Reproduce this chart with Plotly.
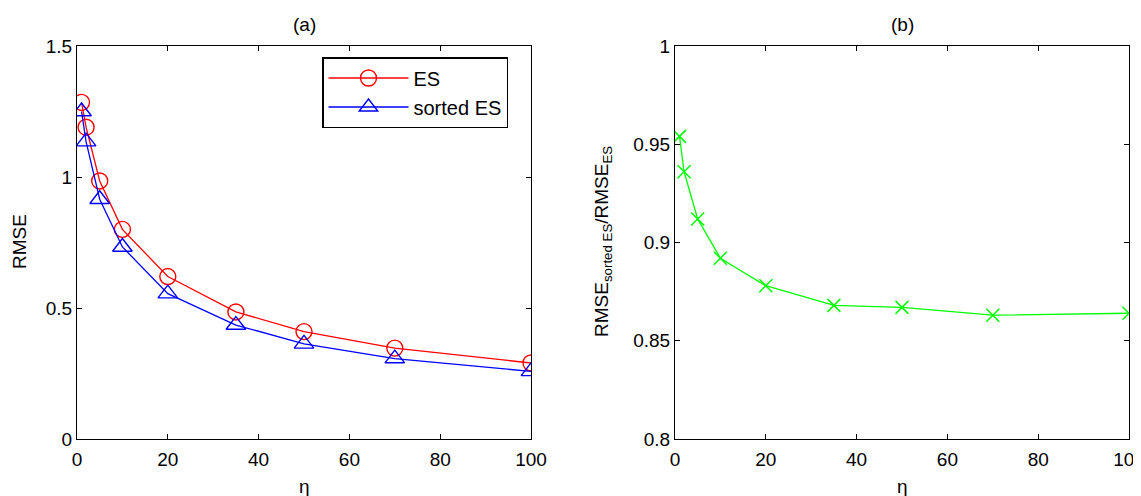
import plotly.graph_objects as go

eta = [1, 2, 5, 10, 20, 35, 50, 70, 100]
rmse_es = [1.285, 1.19, 0.985, 0.80, 0.62, 0.485, 0.41, 0.347, 0.29]
rmse_sorted = [1.25, 1.135, 0.915, 0.733, 0.555, 0.435, 0.363, 0.307, 0.258]
ratio = [0.954, 0.936, 0.912, 0.892, 0.878, 0.868, 0.867, 0.863, 0.864]

x_ticks = [0, 20, 40, 60, 80, 100]
y1_ticks = [0, 0.5, 1, 1.5]
y1_labels = ["0", "0.5", "1", "1.5"]
y2_ticks = [0.8, 0.85, 0.9, 0.95, 1]
y2_labels = ["0.8", "0.85", "0.9", "0.95", "1"]

FONT = "Liberation Sans, Arial, sans-serif"
OFF = 8  # page body margin
W, H = 1141 - OFF, 496 - OFF
FS = 19

fig = go.Figure()
fig.add_trace(go.Scatter(
    x=eta, y=rmse_es, name="ES", mode="lines+markers",
    line=dict(color="#ff0000", width=1.3),
    marker=dict(symbol="circle-open", size=16, color="#ff0000", line=dict(width=1.4)),
    xaxis="x", yaxis="y"))
fig.add_trace(go.Scatter(
    x=eta, y=rmse_sorted, name="sorted ES", mode="lines+markers",
    line=dict(color="#0000ff", width=1.3),
    marker=dict(symbol="triangle-up-open", size=17, color="#0000ff", line=dict(width=1.4)),
    xaxis="x", yaxis="y"))
fig.add_trace(go.Scatter(
    x=eta, y=ratio, name="ratio", mode="lines+markers", showlegend=False,
    line=dict(color="#00ff00", width=1.3),
    marker=dict(symbol="x-thin-open", size=13, color="#00ff00", line=dict(width=1.5, color="#00ff00")),
    xaxis="x2", yaxis="y2"))

def px_x(p):
    return (p - OFF) / W

def px_y(p):
    return (H - (p - OFF)) / H

axis_common = dict(
    showgrid=False, zeroline=False, showline=True, linecolor="black", linewidth=1,
    mirror="ticks", ticks="inside", ticklen=5, tickcolor="black",
    tickfont=dict(family=FONT, size=FS, color="black"), automargin=False,
    ticklabeloverflow="allow",
)

fig.update_layout(
    width=W, height=H, autosize=False,
    margin=dict(l=0, r=0, t=0, b=0),
    paper_bgcolor="white", plot_bgcolor="white",
    font=dict(family=FONT, size=FS, color="black"),
    xaxis=dict(domain=[px_x(77), px_x(531)], range=[0, 100], tickvals=x_ticks, anchor="y",
               ticklabelstandoff=3, **axis_common),
    yaxis=dict(domain=[px_y(439), px_y(46)], range=[0, 1.5], tickvals=y1_ticks, ticktext=y1_labels, anchor="x", **axis_common),
    xaxis2=dict(domain=[px_x(675), px_x(1129)], range=[0, 100], tickvals=x_ticks, anchor="y2",
                ticklabelstandoff=3, **axis_common),
    yaxis2=dict(domain=[px_y(439), px_y(46)], range=[0.8, 1], tickvals=y2_ticks, ticktext=y2_labels, anchor="x2", **axis_common),
    legend=dict(
        x=px_x(322), y=px_y(57), xanchor="left", yanchor="top",
        bordercolor="black", borderwidth=1.5, bgcolor="white",
        font=dict(family=FONT, size=20, color="black"),
        itemwidth=80, tracegroupgap=0,
    ),
    showlegend=True,
)

def ann(text, x, y, angle=0):
    return dict(text=text, x=px_x(x), y=px_y(y), xref="paper", yref="paper",
                showarrow=False, xanchor="center", yanchor="middle",
                textangle=angle, font=dict(family=FONT, size=FS, color="black"))

annotations = [
    ann("(a)", 304, 24),
    ann("(b)", 902, 24),
    ann("η", 304, 486),
    ann("η", 902, 486),
    ann("RMSE", 19, 242, -90),
    ann("RMSE<sub>sorted ES</sub>/RMSE<sub>ES</sub>", 603, 242, -90),
]
fig.update_layout(annotations=annotations)

fig.write_html("out.html")
